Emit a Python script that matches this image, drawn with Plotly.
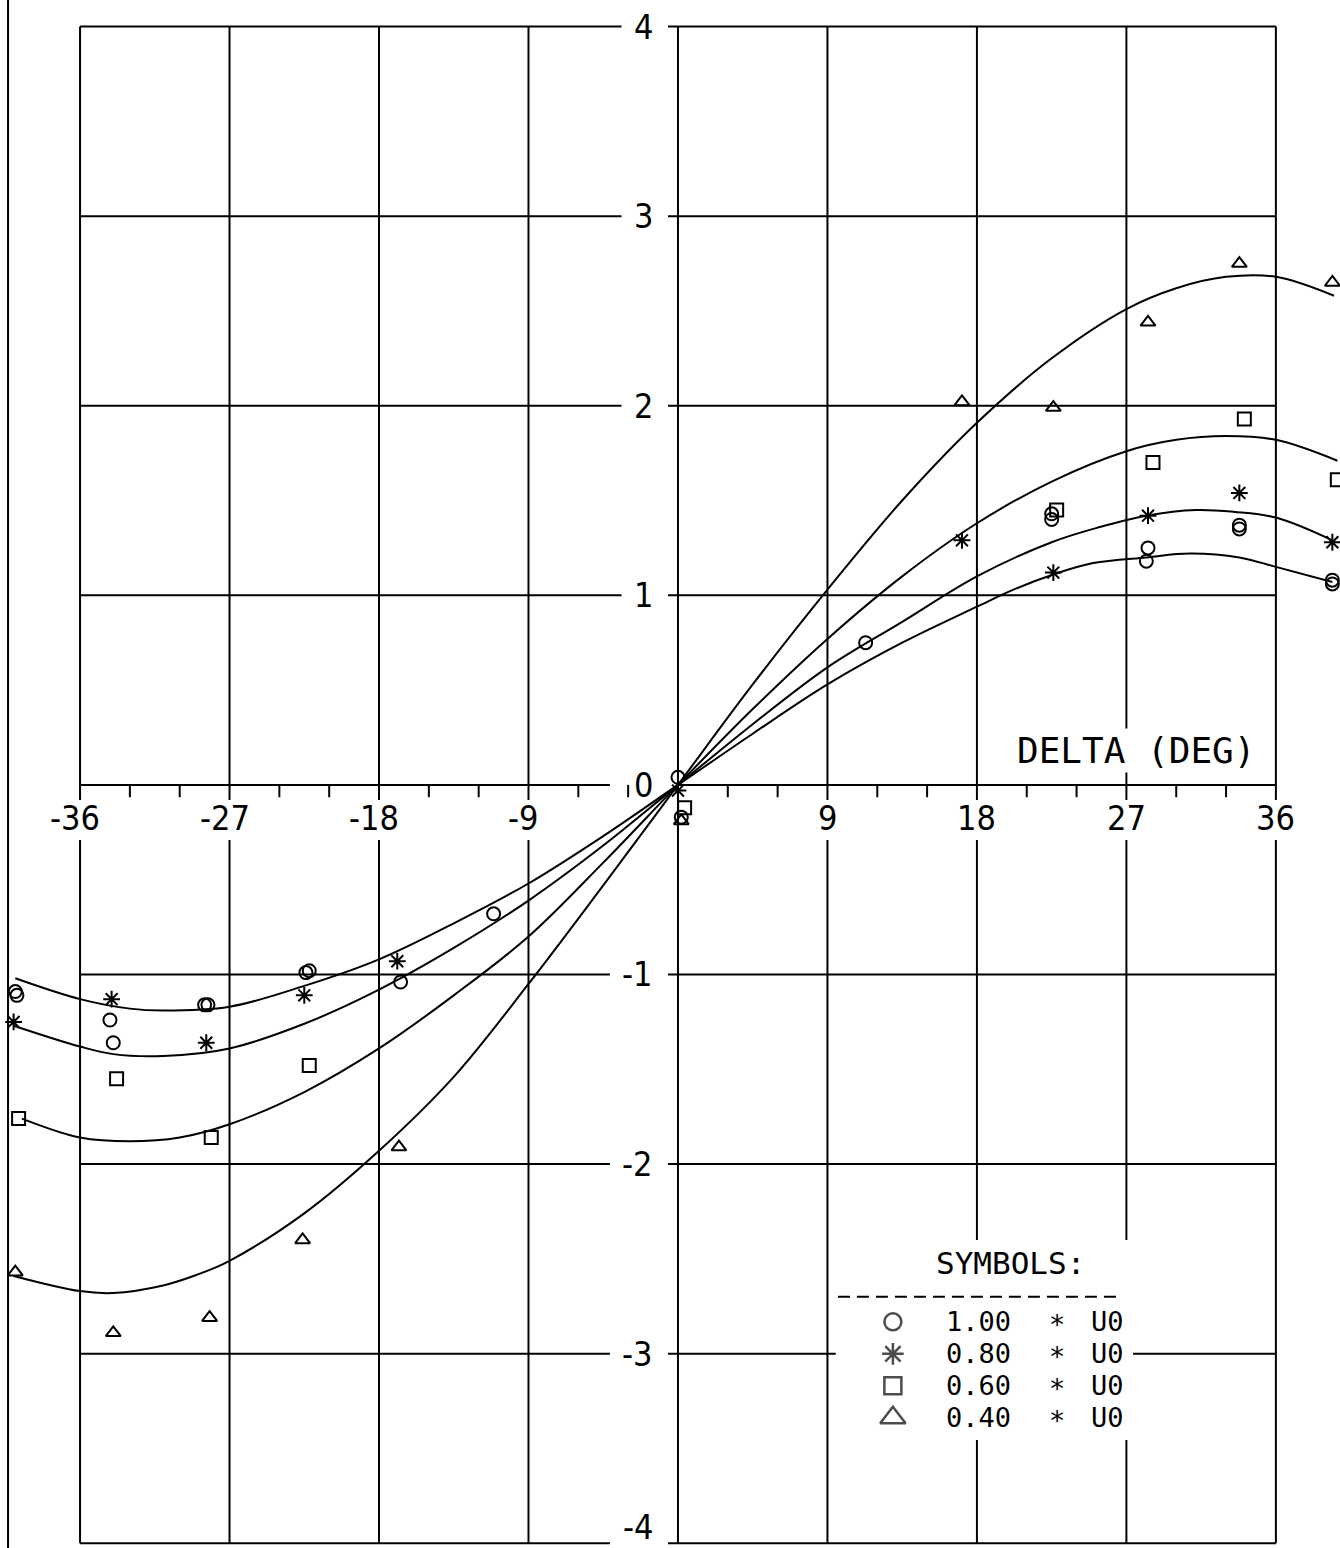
import plotly.graph_objects as go

# ---------------- data ----------------
# fitted curves
curve_100_x = [-39.9, -36, -33, -31, -27, -22.5, -18, -13.5, -9, -4.5, 0, 4.5, 9, 13.5, 18, 20.2, 22.6, 25.0, 28.2, 30.8, 33.8, 36, 39.4]
curve_100_y = [-1.02, -1.13, -1.18, -1.19, -1.17, -1.06, -0.92, -0.73, -0.52, -0.27, 0, 0.27, 0.53, 0.75, 0.94, 1.03, 1.11, 1.17, 1.20, 1.22, 1.20, 1.15, 1.07]

curve_080_x = [-40, -36, -34, -31, -27, -22.5, -18, -13.5, -9, -4.5, 0, 4.5, 9, 13.5, 18, 22.5, 25.4, 28.2, 31.2, 33.5, 36, 39.4]
curve_080_y = [-1.27, -1.38, -1.42, -1.43, -1.39, -1.26, -1.08, -0.86, -0.61, -0.32, 0, 0.32, 0.62, 0.86, 1.10, 1.28, 1.36, 1.42, 1.45, 1.44, 1.41, 1.29]

curve_060_x = [-39.5, -36, -33, -30, -27, -22.5, -18, -13.5, -9, -4.5, 0, 4.5, 9, 13.5, 18, 22.5, 27, 30, 33, 36, 39.7]
curve_060_y = [-1.76, -1.86, -1.88, -1.86, -1.79, -1.62, -1.39, -1.11, -0.80, -0.41, 0, 0.40, 0.77, 1.10, 1.38, 1.60, 1.76, 1.82, 1.84, 1.82, 1.71]

curve_040_x = [-40, -36, -34, -31, -29, -27, -22.5, -18, -13.5, -9, -4.5, 0, 4.5, 9, 13.5, 18, 22.5, 27, 30, 33, 36, 39.5]
curve_040_y = [-2.59, -2.67, -2.68, -2.64, -2.585, -2.51, -2.26, -1.93, -1.54, -1.05, -0.53, 0, 0.53, 1.03, 1.50, 1.91, 2.25, 2.51, 2.62, 2.68, 2.68, 2.58]

# measured points
pts_100_x = [-39.9, -39.8, -34.2, -34.0, -28.5, -28.3, -22.4, -22.2, -16.7, -11.1, 0.0, 0.2, 11.3, 22.5, 22.5, 28.3, 28.2, 33.8, 33.8, 39.4, 39.4]
pts_100_y = [-1.09, -1.11, -1.24, -1.36, -1.16, -1.16, -0.99, -0.98, -1.04, -0.68, 0.04, -0.17, 0.75, 1.43, 1.40, 1.25, 1.18, 1.37, 1.35, 1.08, 1.06]

pts_080_x = [-40.0, -34.1, -28.4, -22.5, -16.9, 0.0, 17.1, 22.6, 28.3, 33.8, 39.4]
pts_080_y = [-1.25, -1.13, -1.36, -1.11, -0.93, -0.03, 1.29, 1.12, 1.42, 1.54, 1.28]

pts_060_x = [-39.7, -33.8, -28.1, -22.2, 0.4, 22.8, 28.6, 34.1, 39.7]
pts_060_y = [-1.76, -1.55, -1.86, -1.48, -0.12, 1.45, 1.70, 1.93, 1.61]

pts_040_x = [-39.9, -34.0, -28.2, -22.6, -16.8, 0.2, 17.1, 22.6, 28.3, 33.8, 39.4]
pts_040_y = [-2.57, -2.89, -2.81, -2.40, -1.91, -0.19, 2.02, 1.99, 2.44, 2.75, 2.65]

series_factor = ["1.00", "0.80", "0.60", "0.40"]
series_unit = "U0"
x_ticks = [-36, -27, -18, -9, 9, 18, 27, 36]
x_minor = [-33, -30, -24, -21, -15, -12, -6, -3, 3, 6, 12, 15, 21, 24, 30, 33]
y_ticks = [4, 3, 2, 1, 0, -1, -2, -3, -4]
x_title = "DELTA (DEG)"
legend_title = "SYMBOLS:"

# ---------------- figure ----------------
BLACK = "black"
NUM_FONT = dict(family="Liberation Sans Narrow, DejaVu Sans Condensed, DejaVu Sans, sans-serif", size=34, color=BLACK)
TXT_FONT = dict(family="DejaVu Sans Mono, Liberation Mono, monospace", size=34, color=BLACK)

fig = go.Figure()

curves = [(curve_100_x, curve_100_y), (curve_080_x, curve_080_y),
          (curve_060_x, curve_060_y), (curve_040_x, curve_040_y)]
for cx, cy in curves:
    fig.add_trace(go.Scatter(x=cx, y=cy, mode="lines",
                             line=dict(color=BLACK, width=2, shape="spline", smoothing=1.0),
                             hoverinfo="skip", showlegend=False))

symbols = ["circle-open", "asterisk-open", "square-open", "triangle-up-open"]
sizes = [13, 14, 13, 13]
points = [(pts_100_x, pts_100_y), (pts_080_x, pts_080_y),
          (pts_060_x, pts_060_y), (pts_040_x, pts_040_y)]
for (px, py), sym, sz in zip(points, symbols, sizes):
    fig.add_trace(go.Scatter(x=px, y=py, mode="markers",
                             marker=dict(symbol=sym, size=sz, color=BLACK,
                                         line=dict(color=BLACK, width=2)),
                             showlegend=False))

shapes = []
LW = 2


def seg(x0, y0, x1, y1, width=LW, dash=None):
    d = dict(type="line", xref="x", yref="y", x0=x0, y0=y0, x1=x1, y1=y1,
             line=dict(color=BLACK, width=width), layer="below")
    if dash:
        d["line"]["dash"] = dash
    return d


# vertical grid lines (interrupted by tick labels)
for xv in x_ticks:
    shapes.append(seg(xv, 4, xv, -0.08))
    shapes.append(seg(xv, -0.29, xv, -4))
# y axis
shapes.append(seg(0, 4, 0, -4))
# minor ticks
for xv in x_minor:
    shapes.append(seg(xv, 0, xv, -0.065))
# horizontal grid lines (interrupted by the y labels)
for yv in y_ticks:
    left_end = -3.4 if yv > 0 else -4.1
    right_start = -0.6 if yv != 0 else 0
    shapes.append(seg(-36, yv, left_end, yv))
    shapes.append(seg(right_start, yv, 36, yv))

# legend: white box over the grid, then dashed separator
shapes.append(dict(type="rect", xref="x", yref="y", x0=9.5, x1=27.4, y0=-2.40, y1=-3.455,
                   fillcolor="white", line=dict(width=0), layer="below"))
shapes.append(seg(9.63, -2.70, 26.73, -2.70, width=2, dash="12px,7px"))
# scan border at the left edge
shapes.append(dict(type="line", xref="paper", yref="paper", x0=0.006, x1=0.006, y0=0, y1=1,
                   line=dict(color=BLACK, width=2), layer="below"))

annotations = []
for xv in x_ticks:
    annotations.append(dict(x=xv, y=-0.175, xref="x", yref="y", text=str(xv),
                            showarrow=False, font=NUM_FONT, xanchor="center", yanchor="middle",
                            xshift=-5 if xv < 0 else 0))
for yv in y_ticks:
    if yv == -4:
        annotations.append(dict(x=-1.4, y=0, xref="x", yref="paper", text=str(yv),
                                showarrow=False, font=NUM_FONT, xanchor="right", yanchor="bottom",
                                borderpad=0))
    else:
        annotations.append(dict(x=-1.4, y=yv, xref="x", yref="y", text=str(yv),
                                showarrow=False, font=NUM_FONT, xanchor="right", yanchor="middle"))
annotations.append(dict(x=27.6, y=0.18, xref="x", yref="y", text=x_title, showarrow=False,
                        font=dict(TXT_FONT, size=36), bgcolor="white", xanchor="center", yanchor="middle"))
annotations.append(dict(x=20.0, y=-2.52, xref="x", yref="y", text=legend_title, showarrow=False,
                        font=dict(TXT_FONT, size=31), xanchor="center", yanchor="middle"))

legend_rows_y = [-2.832, -3.001, -3.169, -3.338]
LEG_FONT = dict(TXT_FONT, size=27)
for fac, ly in zip(series_factor, legend_rows_y):
    annotations.append(dict(x=16.07, y=ly, xref="x", yref="y", text=fac, borderpad=0,
                            showarrow=False, font=LEG_FONT, xanchor="left", yanchor="middle"))
    annotations.append(dict(x=22.82, y=ly, xref="x", yref="y", text="*", borderpad=0, yshift=-3,
                            showarrow=False, font=LEG_FONT, xanchor="center", yanchor="middle"))
    annotations.append(dict(x=24.80, y=ly, xref="x", yref="y", text=series_unit, borderpad=0,
                            showarrow=False, font=LEG_FONT, xanchor="left", yanchor="middle"))

fig.add_trace(go.Scatter(x=[12.94] * 4, y=legend_rows_y, mode="markers",
                         marker=dict(symbol=symbols, size=[17, 18, 17, 22], color=BLACK,
                                     line=dict(color=BLACK, width=2.5)),
                         showlegend=False, hoverinfo="skip"))

fig.update_layout(
    width=1340, height=1548,
    margin=dict(l=0, r=0, t=0, b=0),
    paper_bgcolor="white", plot_bgcolor="white",
    xaxis=dict(range=[-40.82, 39.86], visible=False, fixedrange=True),
    yaxis=dict(range=[-4.025, 4.14], visible=False, fixedrange=True),
    shapes=shapes, annotations=annotations, showlegend=False,
)

fig.write_html("out.html")
